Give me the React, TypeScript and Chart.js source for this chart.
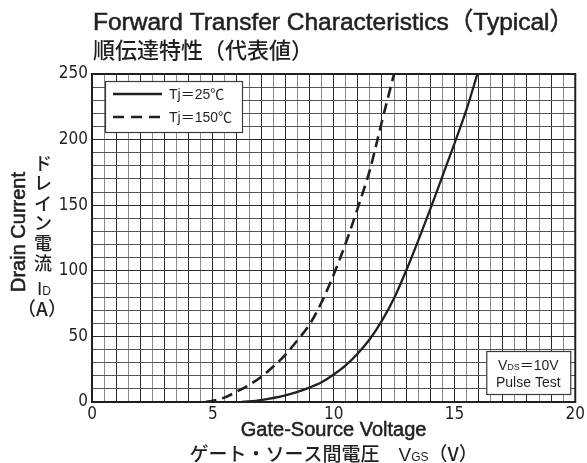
import React, { useEffect, useRef } from "react";
import { Chart, registerables } from "chart.js";

Chart.register(...registerables);

const INK = "#231f20";

// Tj = 25℃ (solid)
const vgs25 = [6.2, 7, 8, 9, 9.5, 10, 10.5, 11, 11.5, 12, 12.5, 13, 13.5, 14, 14.5, 15, 15.5, 15.95];
const id25 = [0, 1.5, 5, 11, 15, 21, 28, 37, 48, 62, 79, 100, 123, 147, 172, 197, 223, 250];
// Tj = 150℃ (dashed)
const vgs150 = [4.7, 5, 5.5, 6, 6.5, 7, 7.5, 8, 8.5, 9, 9.5, 10, 10.5, 11, 11.5, 12, 12.5];
const id150 = [0, 1, 3.5, 8, 13, 19, 27, 36, 47, 59, 76, 97, 121, 148, 177, 214, 250];

const seriesLabels = ["Tj＝25℃", "Tj＝150℃"];
const xTickLabels = [0, 5, 10, 15, 20];
const yTickLabels = [0, 50, 100, 150, 200, 250];
const titleLines = ["Forward Transfer Characteristics（Typical）", "順伝達特性（代表値）"];
const xTitle = "Gate-Source Voltage";
const xTitleJa = "ゲート・ソース間電圧";
const yTitle = "Drain Current";
const yTitleJa = "ドレイン電流";
const noteLine2 = "Pulse Test";

const LAT = (s: number) => `${s}px "Liberation Sans", Arial, "Noto Sans CJK JP", sans-serif`;
const JA = (s: number, w = "500") => `${w} ${s}px "Noto Sans CJK JP", sans-serif`;
const LAB = (s: number) => `${s}px "Liberation Sans", Arial, "Noto Sans CJK JP", sans-serif`;
const TICK_FAMILY = '"Liberation Sans Narrow", "DejaVu Sans Condensed", sans-serif';

type Run = [string, string, boolean?];

function fillHeavy(ctx: CanvasRenderingContext2D, t: string, x: number, y: number, heavy: boolean) {
  ctx.fillText(t, x, y);
  if (heavy) {
    ctx.lineWidth = 0.55;
    ctx.strokeStyle = INK;
    ctx.strokeText(t, x, y);
  }
}

function runsWidth(ctx: CanvasRenderingContext2D, runs: Run[]) {
  let w = 0;
  for (const [t, f] of runs) {
    ctx.font = f;
    w += ctx.measureText(t).width;
  }
  return w;
}
function drawRuns(ctx: CanvasRenderingContext2D, runs: Run[], x: number, y: number) {
  let cx = x - runsWidth(ctx, runs) / 2;
  ctx.textAlign = "left";
  for (const [t, f, heavy] of runs) {
    ctx.font = f;
    fillHeavy(ctx, t, cx, y, !!heavy);
    cx += ctx.measureText(t).width;
  }
}

const decorPlugin = {
  id: "decor",
  afterDatasetsDraw(chart: any) {
    const { ctx, chartArea: a } = chart;
    ctx.save();
    ctx.fillStyle = INK;
    ctx.strokeStyle = INK;
    // frame
    ctx.lineWidth = 2;
    ctx.strokeRect(a.left, a.top, a.right - a.left, a.bottom - a.top);

    // legend box
    const lx = a.left + 13, ly = a.top + 7, lw = 137, lh = 51;
    ctx.fillStyle = "#fff";
    ctx.fillRect(lx, ly, lw, lh);
    ctx.lineWidth = 1.2;
    ctx.strokeStyle = "#3a3a3a";
    ctx.strokeRect(lx + 0.5, ly + 0.5, lw, lh);
    ctx.strokeStyle = INK;
    ctx.lineWidth = 2.4;
    const rows = [ly + 13, ly + 36];
    rows.forEach((ry, i) => {
      ctx.setLineDash(i === 0 ? [] : [11, 7]);
      ctx.beginPath();
      ctx.moveTo(lx + 8, ry);
      ctx.lineTo(lx + 57, ry);
      ctx.stroke();
    });
    ctx.setLineDash([]);
    ctx.fillStyle = INK;
    ctx.textBaseline = "alphabetic";
    ctx.textAlign = "left";
    ctx.font = LAB(14);
    rows.forEach((ry, i) => ctx.fillText(seriesLabels[i], lx + 64, ry + 5));

    // note box
    const nx = a.right - 89, ny = a.bottom - 51, nw = 84, nh = 43;
    ctx.fillStyle = "#fff";
    ctx.fillRect(nx, ny, nw, nh);
    ctx.lineWidth = 1.2;
    ctx.strokeStyle = "#3a3a3a";
    ctx.strokeRect(nx + 0.5, ny + 0.5, nw, nh);
    ctx.fillStyle = INK;
    drawRuns(ctx, [["V", LAB(14)], ["DS", LAB(9)], ["＝10V", LAB(14)]], nx + nw / 2, ny + 19);
    ctx.font = LAB(14);
    ctx.textAlign = "center";
    ctx.fillText(noteLine2, nx + nw / 2, ny + 36);

    // title (fit to plot width)
    ctx.textAlign = "left";
    let fs = 22;
    ctx.font = LAT(fs);
    const tw = ctx.measureText(titleLines[0]).width;
    fs = Math.max(19, Math.min(25, (fs * (a.right - a.left - 2)) / tw));
    ctx.font = LAT(fs);
    fillHeavy(ctx, titleLines[0], a.left + 1, 30, true);
    ctx.font = JA(22);
    ctx.fillText(titleLines[1], a.left + 1, 58);

    // x title
    const mx = (a.left + a.right) / 2;
    ctx.textAlign = "center";
    ctx.font = LAT(20);
    fillHeavy(ctx, xTitle, mx, 436, true);
    drawRuns(
      ctx,
      [
        [xTitleJa + "　", JA(19)],
        ["V", LAT(19)],
        ["GS", LAT(12)],
        ["（V）", JA(19)],
      ],
      mx,
      461
    );

    // y title (rotated)
    ctx.save();
    ctx.translate(25, 232);
    ctx.rotate(-Math.PI / 2);
    ctx.textAlign = "center";
    ctx.font = LAT(20);
    fillHeavy(ctx, yTitle, 0, 0, true);
    ctx.restore();

    // vertical Japanese
    ctx.textAlign = "center";
    ctx.font = JA(18);
    const chars = Array.from(yTitleJa);
    chars.forEach((c, i) => ctx.fillText(c, 43, 170 + i * 20));
    drawRuns(ctx, [["I", LAT(19)], ["D", LAT(12)]], 44, 295);
    ctx.font = JA(19);
    ctx.textAlign = "center";
    ctx.fillText("（A）", 42, 316);

    ctx.restore();
  },
};

export default function App() {
  const ref = useRef<HTMLCanvasElement>(null);
  useEffect(() => {
    document.body.style.margin = "0";
    const canvas = ref.current!;
    const chart = new Chart(canvas, {
      type: "line",
      data: {
        datasets: [
          {
            label: seriesLabels[0],
            data: vgs25.map((x, i) => ({ x, y: id25[i] })),
            borderColor: INK,
            borderWidth: 2.3,
            pointRadius: 0,
            tension: 0.4,
            cubicInterpolationMode: "monotone",
            fill: false,
          },
          {
            label: seriesLabels[1],
            data: vgs150.map((x, i) => ({ x, y: id150[i] })),
            borderColor: INK,
            borderWidth: 2.6,
            borderDash: [11, 6],
            pointRadius: 0,
            tension: 0.4,
            cubicInterpolationMode: "monotone",
            fill: false,
          },
        ],
      },
      options: {
        animation: false,
        responsive: false,
        devicePixelRatio: 1,
        layout: { padding: { top: 74, right: 9, left: 0, bottom: 0 } },
        plugins: { legend: { display: false }, title: { display: false }, tooltip: { enabled: false } },
        scales: {
          x: {
            type: "linear",
            min: 0,
            max: 20,
            afterFit: (s: any) => {
              s.height = 463 - 402;
            },
            ticks: {
              stepSize: 0.5,
              autoSkip: false,
              maxRotation: 0,
              minRotation: 0,
              padding: 2,
              color: INK,
              font: { family: TICK_FAMILY, size: 17 },
              callback: (v: any) => (xTickLabels.includes(Number(v)) ? String(v) : ""),
            },
            grid: {
              drawTicks: false,
              lineWidth: 1,
              color: (c: any) => (c.tick && c.tick.value % 1 === 0 ? "#2a2a2a" : "#8a8a8a"),
            },
            border: { display: true, color: INK, width: 2 },
          },
          y: {
            min: 0,
            max: 250,
            afterFit: (s: any) => {
              s.width = 92;
            },
            ticks: {
              stepSize: 10,
              autoSkip: false,
              padding: 4,
              color: INK,
              font: { family: TICK_FAMILY, size: 17 },
              callback: (v: any) => (yTickLabels.includes(Number(v)) ? String(v) : ""),
            },
            grid: {
              drawTicks: false,
              lineWidth: 1,
              color: (c: any) => (c.tick && c.tick.value % 50 === 0 ? "#2a2a2a" : "#555555"),
            },
            border: { display: true, color: INK, width: 2 },
          },
        },
      } as any,
      plugins: [decorPlugin],
    });
    return () => chart.destroy();
  }, []);
  return (
    <div style={{ width: 587, height: 463, position: "relative", background: "#fff" }}>
      <canvas ref={ref} width={587} height={463} />
    </div>
  );
}
